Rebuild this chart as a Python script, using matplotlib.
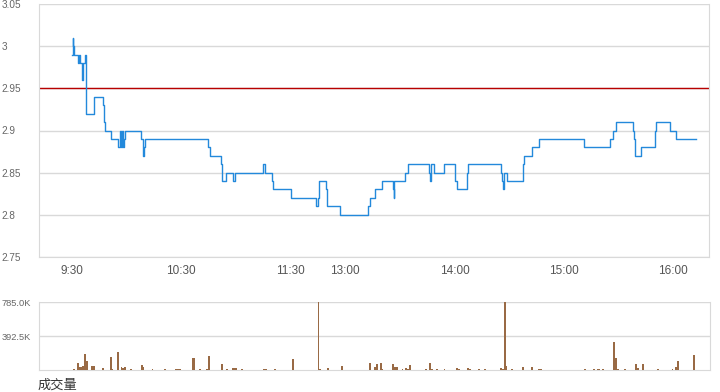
import matplotlib
matplotlib.use('Agg')
from matplotlib import pyplot as plt
import numpy as np

# minutes after 9:30 (lunch break removed: 12:00 == 13:00 == 150)
price_t = [0, 0.4, 0.7, 1.1, 3.1, 4.0, 4.6, 5.3, 5.7, 5.9, 7.1, 7.7, 7.9,
           12.0, 12.3, 17.2, 17.7, 18.1, 21.3, 25.3, 26.1, 26.7, 27.2, 27.8,
           28.3, 28.9, 38.0, 38.8, 39.3, 39.9, 74.8, 75.5, 81.9, 82.4, 84.6,
           88.5, 89.4, 105.0, 106.0, 109.8, 110.5, 120.3, 133.9, 135.0, 135.6,
           139.2, 140.1, 147.2, 162.5, 163.4, 166.5, 170.0, 176.2, 176.5, 176.9,
           182.8, 184.6, 196.1, 196.7, 197.2, 198.9, 204.2, 210.0, 211.2, 216.6,
           217.1, 235.4, 236.2, 236.7, 237.3, 238.5, 247.3, 248.3, 252.5, 256.2,
           281.0, 295.5, 297.1, 298.7, 307.6, 308.3, 309.0, 312.2, 320.0, 320.6,
           328.0, 331.4, 342.3]
price_v = [2.99, 3.01, 3.00, 2.99, 2.98, 2.99, 2.98, 2.97, 2.96, 2.98, 2.99, 2.97, 2.92,
           2.93, 2.94, 2.93, 2.91, 2.90, 2.89, 2.88, 2.90, 2.88, 2.90, 2.88,
           2.89, 2.90, 2.89, 2.87, 2.88, 2.89, 2.88, 2.87, 2.86, 2.84, 2.85,
           2.84, 2.85, 2.86, 2.85, 2.84, 2.83, 2.82, 2.81, 2.82, 2.84,
           2.83, 2.81, 2.80, 2.81, 2.82, 2.83, 2.84, 2.83, 2.82, 2.84,
           2.85, 2.86, 2.85, 2.84, 2.86, 2.85, 2.86, 2.84, 2.83, 2.85,
           2.86, 2.85, 2.84, 2.83, 2.85, 2.84, 2.86, 2.87, 2.88, 2.89,
           2.88, 2.89, 2.90, 2.91, 2.90, 2.89, 2.87, 2.88, 2.90, 2.91,
           2.90, 2.89, 2.89]
prev_close = 2.95

# volume per minute, in thousands
vol_t = [1, 3, 4, 5, 6, 7, 8, 11, 12, 17, 21, 22, 25, 27, 28, 29, 32, 38, 39, 44,
         51, 57, 58, 59, 66, 67, 70, 74, 75, 82, 85, 88, 89, 90,
         93, 105, 106, 111, 121, 135, 136, 140, 148, 163, 166, 167, 169, 170,
         176, 177, 178, 181, 183, 184, 185, 194, 196, 197, 200, 204, 211, 212,
         217, 218, 223, 226, 235, 236, 237, 238, 241, 247, 252, 256, 257, 281,
         286, 288, 289, 291, 297, 298, 299, 303, 309, 310, 313, 321, 329, 331,
         332, 341]
vol_v = [15, 85, 38, 40, 50, 185, 108, 50, 50, 27, 154, 15, 212, 38, 27, 38, 15, 62, 38, 15,
         15, 15, 15, 15, 142, 142, 15, 15, 165, 73, 15, 27, 27, 27,
         15, 15, 15, 15, 131, 785, 15, 27, 50, 85, 38, 73, 85, 15,
         73, 38, 38, 15, 27, 15, 62, 15, 85, 15, 15, 15, 27, 15,
         27, 15, 15, 15, 27, 15, 785, 50, 15, 38, 38, 15, 15, 15,
         15, 15, 15, 15, 327, 142, 15, 15, 73, 27, 73, 15, 15, 38,
         108, 177]

xtick_pos = [0, 60, 120, 150, 210, 270, 330]
xtick_lab = ['9:30', '10:30', '11:30', '13:00', '14:00', '15:00', '16:00']
ytick_pos = [2.75, 2.8, 2.85, 2.9, 2.95, 3.0, 3.05]
ytick_lab = ['2.75', '2.8', '2.85', '2.9', '2.95', '3', '3.05']
vtick_pos = [392.5, 785.0]
vtick_lab = ['392.5K', '785.0K']

plt.rcParams['font.family'] = ['Liberation Sans', 'DejaVu Sans']
grid_c = '#d9d9d9'
txt_c = '#666666'
xmin, xmax = -18.1, 349.4

fig = plt.figure(figsize=(7.2, 3.92), dpi=100)

# price panel
ax = fig.add_axes([39 / 720, 1 - 256.7 / 392, 669.7 / 720, 252.4 / 392])
ax.plot(price_t, price_v, drawstyle='steps-post', color='#2389db', linewidth=1.0, zorder=3)
ax.axhline(prev_close, color='#b80000', linewidth=1.0, zorder=2)
ax.set_xlim(xmin, xmax)
ax.set_ylim(2.75, 3.05)
ax.set_yticks(ytick_pos)
ax.set_yticklabels(ytick_lab)
ax.set_xticks(xtick_pos)
ax.set_xticklabels(xtick_lab)
ax.grid(axis='y', color=grid_c, linewidth=1)
ax.tick_params(axis='y', length=0, pad=27, labelsize=7.2, labelcolor=txt_c)
ax.tick_params(axis='x', length=0, pad=6, labelsize=8.5, labelcolor='#555555')
for lab in ax.get_yticklabels():
    lab.set_horizontalalignment('left')
for side in ['left', 'right', 'bottom']:
    ax.spines[side].set_color(grid_c)
ax.spines['top'].set_visible(False)

# volume panel
axv = fig.add_axes([39.3 / 720, 1 - 370.3 / 392, 670.4 / 720, 68 / 392])
axv.bar(vol_t, vol_v, width=1.0, color='#996a45', linewidth=0, zorder=3)
axv.set_xlim(xmin, xmax)
axv.set_ylim(0, 785)
axv.set_yticks(vtick_pos)
axv.set_yticklabels(vtick_lab)
axv.set_xticks([])
axv.grid(axis='y', color=grid_c, linewidth=1)
axv.tick_params(axis='y', length=0, pad=27, labelsize=6.7, labelcolor=txt_c)
for lab in axv.get_yticklabels():
    lab.set_horizontalalignment('left')
for side in ['left', 'right', 'bottom']:
    axv.spines[side].set_color(grid_c)
axv.spines['top'].set_visible(False)

fig.text(38 / 720, 1 - 385 / 392, '成交量', fontsize=9.5, color='#333333',
         family=['Noto Sans CJK SC', 'DejaVu Sans'], va='center', ha='left')

fig.savefig('out.png', dpi=100)
